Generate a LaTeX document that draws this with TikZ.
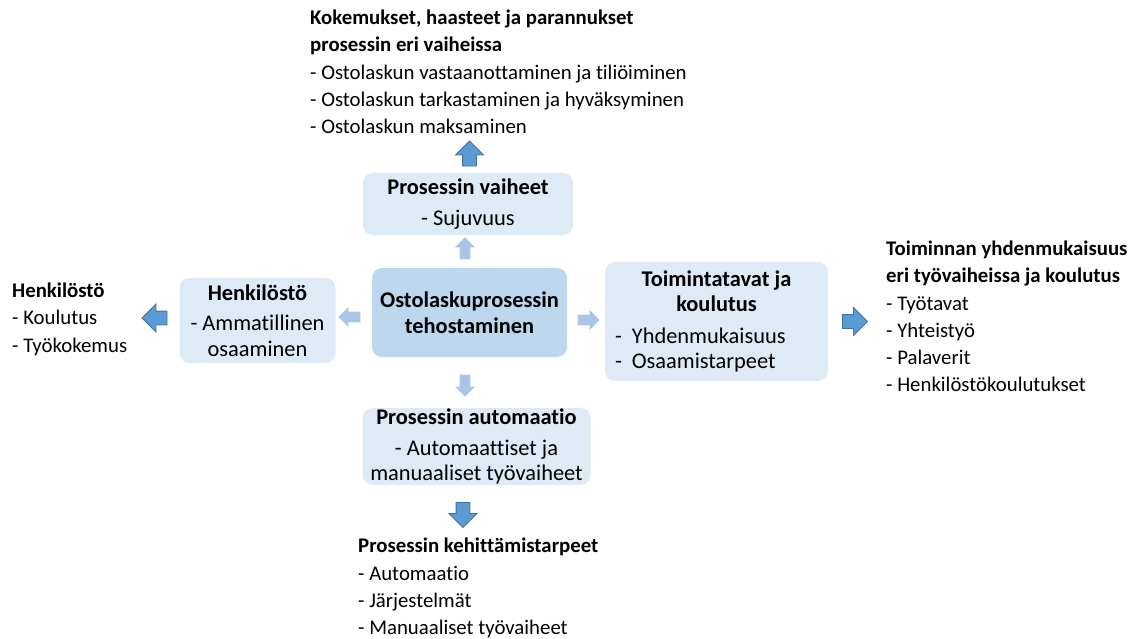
\documentclass[tikz,border=0pt]{standalone}
\usepackage{fontspec}
\setmainfont{Carlito}[Ligatures={NoCommon}]
\usetikzlibrary{shapes.arrows}
\definecolor{boxlight}{HTML}{DEEBF7}
\definecolor{boxmid}{HTML}{BDD7EE}
\definecolor{arrowlight}{HTML}{A9C6E8}
\definecolor{arrowdark}{HTML}{5B9BD5}
\definecolor{arrowedge}{HTML}{41719C}
\begin{document}
\begin{tikzpicture}[x=1pt,y=-1pt]
  \tikzset{ box/.style={rounded corners=10pt, fill=boxlight, align=center, inner sep=0pt, font=\fontsize{22.4}{25.5}\selectfont},
    outer/.style={anchor=north west, align=left, inner sep=0pt, font=\fontsize{20.8}{27.2}\selectfont},
    lightarrow/.style={single arrow, fill=arrowlight, inner sep=5pt, minimum width=20pt, minimum height=22pt, single arrow head extend=4.5pt},
    darkarrow/.style={single arrow, draw=arrowedge, fill=arrowdark, line width=0.8pt, inner sep=6.5pt, minimum width=27pt, minimum height=25pt, single arrow head extend=7pt} };
  \useasboundingbox (0,0) rectangle (1134,639);
  % boxes
  \node[box, fill=boxmid, minimum width=195pt, minimum height=89pt] (main) at (469.5,312.5) {\textbf{Ostolaskuprosessin}\\\textbf{tehostaminen}};
  \node[box, minimum width=210pt, minimum height=62pt] (vaiheet) at (468,204) {\textbf{Prosessin vaiheet}\\[5pt] - Sujuvuus};
  \node[box, minimum width=156pt, minimum height=85pt] (henk) at (257.5,320.5) {\textbf{Henkilöstö}\\[5pt] - Ammatillinen\\ osaaminen};
  \node[box, minimum width=223pt, minimum height=119pt] (toim) at (716.5,321.5) {\textbf{Toimintatavat ja}\\\textbf{koulutus}\\[6pt]
    \makebox[203pt][l]{-\hspace{10pt}Yhdenmukaisuus}\\\makebox[203pt][l]{-\hspace{10pt}Osaamistarpeet}};
  \node[box, minimum width=228pt, minimum height=77pt] (auto) at (476.5,446.5) {\textbf{Prosessin automaatio}\\[5pt] - Automaattiset ja\\ manuaaliset työvaiheet};
  % arrows
  \node[lightarrow, shape border rotate=90] (aup) at (465,251) {};
  \node[lightarrow, shape border rotate=180] (aleft) at (352,317) {};
  \node[lightarrow] (aright) at (586,320) {};
  \node[lightarrow, shape border rotate=270] (adown) at (465,383) {};
  \node[darkarrow, shape border rotate=90] (dup) at (469.5,157) {};
  \node[darkarrow, shape border rotate=180] (dleft) at (158,318) {};
  \node[darkarrow] (dright) at (851.5,321.5) {};
  \node[darkarrow, shape border rotate=270] (ddown) at (463,511.5) {};
  % outer texts
  \node[outer] (kokemukset) at (310,10) {\textbf{Kokemukset, haasteet ja parannukset}\\\textbf{prosessin eri vaiheissa}\\- Ostolaskun vastaanottaminen ja tiliöiminen\\- Ostolaskun tarkastaminen ja hyväksyminen\\- Ostolaskun maksaminen};
  \node[outer] (henkilosto) at (12,283) {\textbf{Henkilöstö}\\- Koulutus\\- Työkokemus};
  \node[outer] (toiminnan) at (886,241) {\textbf{Toiminnan yhdenmukaisuus}\\\textbf{eri työvaiheissa ja koulutus}\\- Työtavat\\- Yhteistyö\\- Palaverit\\- Henkilöstökoulutukset};
  \node[outer] (kehitys) at (358,538) {\textbf{Prosessin kehittämistarpeet}\\- Automaatio\\- Järjestelmät\\- Manuaaliset työvaiheet};
\end{tikzpicture}
\end{document}
